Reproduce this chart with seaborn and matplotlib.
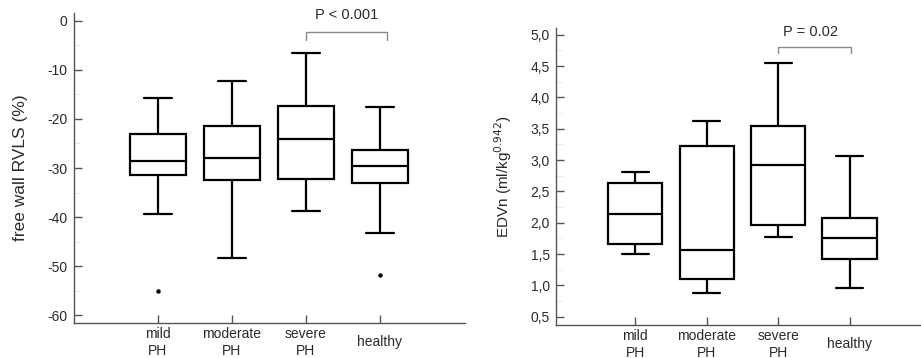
import numpy as np
import pandas as pd
import matplotlib
matplotlib.use("Agg")
import matplotlib.pyplot as plt
from matplotlib.ticker import MultipleLocator, FuncFormatter
import seaborn as sns

# ===================== DATA =======================
groups = ["mild\nPH", "moderate\nPH", "severe\nPH", "healthy"]

# box summary per group: lower whisker, Q1, median, Q3, upper whisker
rvls_lo  = [-39.4, -48.4, -38.8, -43.3]
rvls_q1  = [-31.5, -32.5, -32.3, -33.1]
rvls_med = [-28.5, -28.0, -24.0, -29.6]
rvls_q3  = [-23.1, -21.4, -17.3, -26.3]
rvls_hi  = [-15.8, -12.2, -6.5, -17.6]
rvls_out_group = ["mild\nPH", "healthy"]
rvls_out_value = [-55.1, -51.8]

edv_lo  = [1.50, 0.87, 1.77, 0.96]
edv_q1  = [1.66, 1.10, 1.97, 1.42]
edv_med = [2.14, 1.57, 2.92, 1.75]
edv_q3  = [2.64, 3.23, 3.54, 2.08]
edv_hi  = [2.81, 3.62, 4.55, 3.07]


def long_table(lo, q1, med, q3, hi):
    rows = []
    for i, g in enumerate(groups):
        for v in (lo[i], q1[i], med[i], q3[i], hi[i]):
            rows.append({"group": g, "value": v})
    return pd.DataFrame(rows)


df_rvls = long_table(rvls_lo, rvls_q1, rvls_med, rvls_q3, rvls_hi)
df_edv = long_table(edv_lo, edv_q1, edv_med, edv_q3, edv_hi)
df_out = pd.DataFrame({"group": rvls_out_group, "value": rvls_out_value})

# ===================== STYLE =======================
sns.set_style("ticks")
plt.rcParams["font.family"] = ["Liberation Sans", "DejaVu Sans"]
plt.rcParams["axes.unicode_minus"] = False
spine_col = "#555555"
text_col = "#2a2a2a"

fig = plt.figure(figsize=(9.21, 3.58), dpi=100)
ax1 = fig.add_axes([74 / 921, 35 / 358, 391 / 921, 310 / 358])
ax2 = fig.add_axes([556 / 921, 33 / 358, 365 / 921, 297 / 358])


def draw_box(ax, df):
    sns.boxplot(data=df, x="group", y="value", order=groups, ax=ax,
                whis=(0, 100), width=0.76, color="white", linecolor="black",
                linewidth=1.6, fliersize=0)


draw_box(ax1, df_rvls)
sns.stripplot(data=df_out, x="group", y="value", order=groups, ax=ax1,
              jitter=False, color="black", size=3.2, zorder=5)
draw_box(ax2, df_edv)

# ---- axes cosmetics ----
for ax in (ax1, ax2):
    sns.despine(ax=ax)
    for s in ("left", "bottom"):
        ax.spines[s].set_color(spine_col)
        ax.spines[s].set_linewidth(1.0)
    ax.set_xlabel("")
    ax.set_xticks(range(len(groups)))
    ax.set_xticklabels(groups, va="center", linespacing=1.2)
    ax.tick_params(axis="both", direction="in", length=6, width=1.0,
                   color=spine_col, labelcolor=text_col, labelsize=10)
    ax.tick_params(axis="x", pad=14)
    ax.tick_params(axis="y", pad=4.5)
    ax.tick_params(axis="y", which="minor", direction="in", length=4,
                   color="#e4e4e4")
    ax.patch.set_alpha(0)

ax1.set_xlim(-1.135, 4.15)
ax1.set_ylim(-61.6, 1.6)
ax1.yaxis.set_major_locator(MultipleLocator(10))
ax1.yaxis.set_minor_locator(MultipleLocator(5))
ax1.set_ylabel("free wall RVLS (%)", fontsize=12.5, color=text_col, labelpad=14)

ax2.set_xlim(-1.11, 4.0)
ax2.set_ylim(0.367, 5.107)
ax2.yaxis.set_major_locator(MultipleLocator(0.5))
ax2.yaxis.set_minor_locator(MultipleLocator(0.25))
ax2.yaxis.set_major_formatter(FuncFormatter(lambda v, p: f"{v:.1f}".replace(".", ",")))
ax2.set_ylabel("EDVn (ml/kg$^{0.942}$)", fontsize=11, color=text_col, labelpad=12)

# ---- significance brackets ----
br_col = "#8a8a8a"
ax1.plot([2, 2, 3.1, 3.1], [-4.0, -2.3, -2.3, -4.0], color=br_col, lw=1.0,
         clip_on=False)
ax1.text(2.55, 1.1, "P < 0.001", ha="center", va="center", fontsize=10.5,
         color=text_col, clip_on=False)
ax2.plot([2, 2, 3.02, 3.02], [4.71, 4.80, 4.80, 4.71], color=br_col, lw=1.0,
         clip_on=False)
ax2.text(2.45, 5.05, "P = 0.02", ha="center", va="center", fontsize=10.5,
         color=text_col, clip_on=False)

fig.savefig("out.png", dpi=100)
